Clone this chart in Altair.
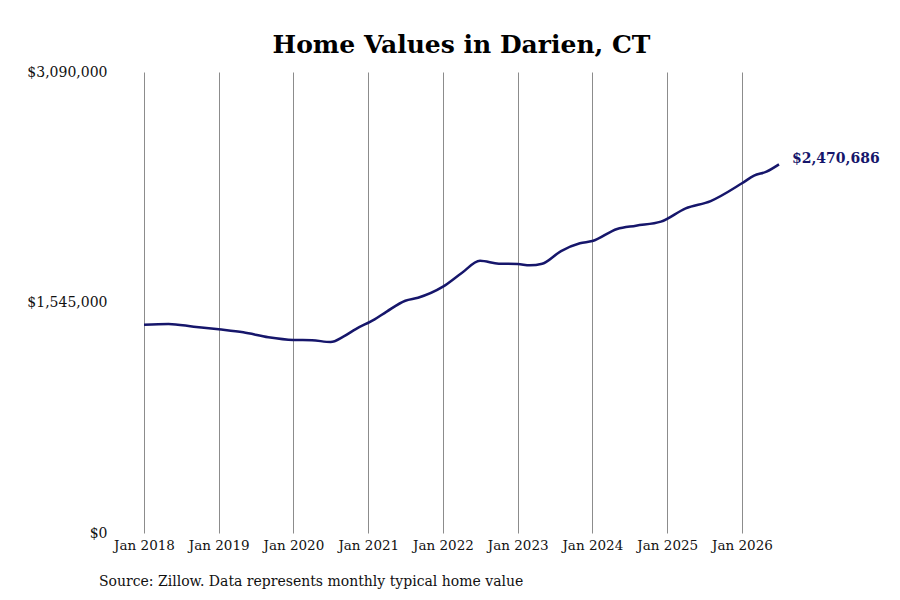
import altair as alt
import pandas as pd

# monthly typical home value readings (Zillow), Darien CT
months = [
    "2018-01", "2018-05", "2018-09", "2019-01", "2019-05", "2019-09",
    "2020-01", "2020-04", "2020-07", "2020-09", "2020-11", "2021-02",
    "2021-04", "2021-07", "2021-09", "2022-01", "2022-04", "2022-07",
    "2022-10", "2023-01", "2023-03", "2023-05", "2023-08", "2023-11",
    "2024-01", "2024-05", "2024-08", "2024-12", "2025-04", "2025-08",
    "2026-01", "2026-03", "2026-05", "2026-07",
]
values = [
    1396000, 1401000, 1383000, 1365000, 1345000, 1312000,
    1294000, 1292000, 1280000, 1316000, 1367000, 1432000,
    1484000, 1557000, 1577000, 1651000, 1741000, 1825000,
    1805000, 1803000, 1794000, 1805000, 1890000, 1942000,
    1957000, 2038000, 2060000, 2087000, 2176000, 2225000,
    2344000, 2395000, 2422000, 2470686,
]
y_ticks = [0, 1545000, 3090000]
source_note = "Source: Zillow. Data represents monthly typical home value"

df = pd.DataFrame({"date": pd.to_datetime(months), "value": values})
last = df.tail(1)

font = "DejaVu Serif"
navy = "#16166b"

x = alt.X(
    "date:T",
    scale=alt.Scale(domain=[pd.Timestamp("2018-01-01").isoformat(), pd.Timestamp("2026-07-01").isoformat()]),
    axis=alt.Axis(
        title=None, format="%b %Y", tickCount={"interval": "year", "step": 1},
        grid=True, gridColor="#8c8c8c", gridWidth=1, domain=False, ticks=False,
        labelPadding=5, labelFontSize=13.5, labelFont=font, labelColor="#111",
        labelOverlap=False, labelFlush=False,
    ),
)
y = alt.Y(
    "value:Q",
    scale=alt.Scale(domain=[0, 3090000], nice=False),
    axis=alt.Axis(
        title=None, values=y_ticks, format="$,.0f", grid=False, domain=False,
        ticks=False, labelPadding=37, labelFontSize=14, labelFont=font,
        labelColor="#111",
    ),
)

line = alt.Chart(df).mark_line(
    color=navy, strokeWidth=2.5, interpolate="monotone"
).encode(x=x, y=y)

end_label = alt.Chart(last).mark_text(
    align="left", dx=13, dy=-5, font=font, fontSize=14, fontWeight="bold", color=navy
).encode(x="date:T", y="value:Q", text=alt.Text("value:Q", format="$,.0f"))

note = alt.Chart(pd.DataFrame({"t": [source_note]})).mark_text(
    align="left", baseline="middle", font=font, fontSize=14, color="#111"
).encode(x=alt.value(-45), y=alt.value(510), text="t:N")

chart = alt.layer(line, end_label, note).properties(
    width=635,
    height=461,
    title=alt.TitleParams(
        "Home Values in Darien, CT", font=font, fontSize=25, fontWeight="bold",
        color="#000", anchor="middle", frame="group", offset=7,
    ),
    autosize="none",
    padding={"left": 136, "top": 64, "right": 113, "bottom": 67},
).configure_view(stroke=None)

chart.save("out.html", embed_options={"renderer": "svg", "actions": False})
